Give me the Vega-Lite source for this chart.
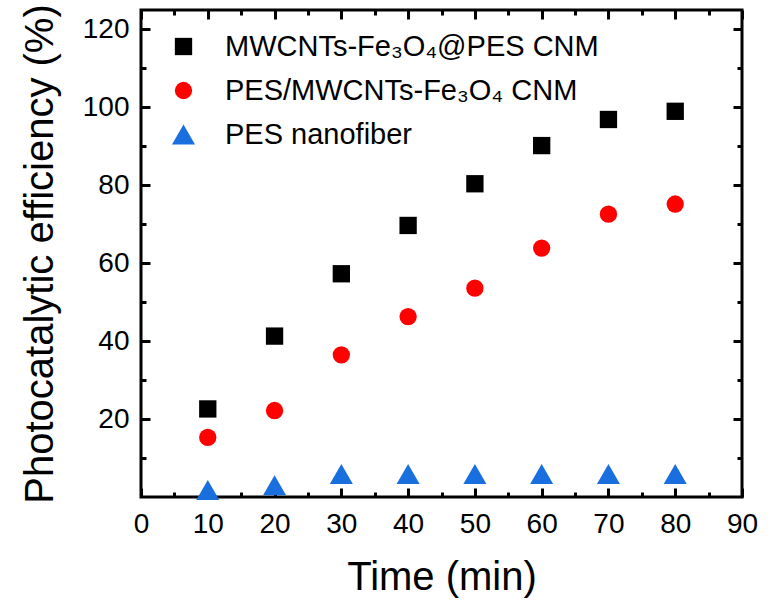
{
  "$schema": "https://vega.github.io/schema/vega-lite/v6.json",
  "width": 601,
  "height": 487,
  "autosize": "none",
  "padding": {"left": 141, "top": 10, "right": 26, "bottom": 106},
  "background": "white",
  "config": {
    "view": {"stroke": "black", "strokeWidth": 3},
    "font": "Liberation Sans",
    "axis": {"grid": false, "domain": false, "labelFlush": false, "labelFont": "Liberation Sans", "titleFont": "Liberation Sans", "labelColor": "black", "titleColor": "black", "tickColor": "black", "tickWidth": 3, "titleFontWeight": "normal"}
  },
  "data": {"values": [
    {"t": 10, "eff": 22.6, "s": "MWCNTs-Fe₃O₄@PES CNM"},
    {"t": 20, "eff": 41.3, "s": "MWCNTs-Fe₃O₄@PES CNM"},
    {"t": 30, "eff": 57.3, "s": "MWCNTs-Fe₃O₄@PES CNM"},
    {"t": 40, "eff": 69.7, "s": "MWCNTs-Fe₃O₄@PES CNM"},
    {"t": 50, "eff": 80.4, "s": "MWCNTs-Fe₃O₄@PES CNM"},
    {"t": 60, "eff": 90.2, "s": "MWCNTs-Fe₃O₄@PES CNM"},
    {"t": 70, "eff": 96.9, "s": "MWCNTs-Fe₃O₄@PES CNM"},
    {"t": 80, "eff": 99.0, "s": "MWCNTs-Fe₃O₄@PES CNM"},
    {"t": 10, "eff": 15.3, "s": "PES/MWCNTs-Fe₃O₄ CNM"},
    {"t": 20, "eff": 22.2, "s": "PES/MWCNTs-Fe₃O₄ CNM"},
    {"t": 30, "eff": 36.5, "s": "PES/MWCNTs-Fe₃O₄ CNM"},
    {"t": 40, "eff": 46.3, "s": "PES/MWCNTs-Fe₃O₄ CNM"},
    {"t": 50, "eff": 53.6, "s": "PES/MWCNTs-Fe₃O₄ CNM"},
    {"t": 60, "eff": 63.9, "s": "PES/MWCNTs-Fe₃O₄ CNM"},
    {"t": 70, "eff": 72.6, "s": "PES/MWCNTs-Fe₃O₄ CNM"},
    {"t": 80, "eff": 75.2, "s": "PES/MWCNTs-Fe₃O₄ CNM"},
    {"t": 10, "eff": 1.8, "s": "PES nanofiber"},
    {"t": 20, "eff": 3.0, "s": "PES nanofiber"},
    {"t": 30, "eff": 5.9, "s": "PES nanofiber"},
    {"t": 40, "eff": 5.9, "s": "PES nanofiber"},
    {"t": 50, "eff": 5.9, "s": "PES nanofiber"},
    {"t": 60, "eff": 5.9, "s": "PES nanofiber"},
    {"t": 70, "eff": 5.9, "s": "PES nanofiber"},
    {"t": 80, "eff": 5.9, "s": "PES nanofiber"}
  ]},
  "resolve": {"axis": {"x": "independent", "y": "independent"}},
  "layer": [
    {
      "mark": {"type": "point", "filled": true, "opacity": 1, "size": 300},
      "encoding": {
        "x": {"field": "t", "type": "quantitative", "scale": {"domain": [0, 90], "nice": false},
          "axis": {"orient": "bottom", "title": "Time (min)", "values": [0,5,10,15,20,25,30,35,40,45,50,55,60,65,70,75,80,85,90],
            "labelExpr": "datum.value % 10 === 0 ? datum.label : ''", "labelFontSize": 28, "titleFontSize": 40, "labelPadding": 22, "titlePadding": 19,
            "tickSize": {"condition": {"test": "datum.value % 10 === 0", "value": -9}, "value": -5}}},
        "y": {"field": "eff", "type": "quantitative", "scale": {"domain": [0, 125], "nice": false},
          "axis": {"orient": "left", "title": "Photocatalytic efficiency (%)", "values": [10,20,30,40,50,60,70,80,90,100,110,120],
            "labelExpr": "datum.value % 20 === 0 ? datum.label : ''", "labelFontSize": 28, "titleFontSize": 40, "labelPadding": 21, "titlePadding": 22,
            "tickSize": {"condition": {"test": "datum.value % 20 === 0", "value": -9}, "value": -5}}},
        "color": {"field": "s", "type": "nominal", "sort": null,
          "scale": {"domain": ["MWCNTs-Fe₃O₄@PES CNM", "PES/MWCNTs-Fe₃O₄ CNM", "PES nanofiber"], "range": ["#000000", "#ff0000", "#1a6fdf"]},
          "legend": {"orient": "none", "legendX": 28, "legendY": 22, "title": null, "labelFontSize": 29, "labelFont": "Liberation Sans", "labelColor": "black", "labelLimit": 0, "rowPadding": 14, "labelOffset": 27, "padding": 0, "symbolSize": 300}},
        "shape": {"field": "s", "type": "nominal", "sort": null,
          "scale": {"domain": ["MWCNTs-Fe₃O₄@PES CNM", "PES/MWCNTs-Fe₃O₄ CNM", "PES nanofiber"], "range": ["square", "circle", "M0,-1.155L1.33,1.155L-1.33,1.155Z"]},
          "legend": {"orient": "none", "legendX": 28, "legendY": 22, "title": null, "labelFontSize": 29, "labelFont": "Liberation Sans", "labelColor": "black", "labelLimit": 0, "rowPadding": 14, "labelOffset": 27, "padding": 0, "symbolSize": 300}}
      }
    },
    {
      "mark": {"type": "point", "opacity": 0},
      "encoding": {
        "x": {"field": "t", "type": "quantitative",
          "axis": {"orient": "top", "title": null, "labels": false, "values": [0,5,10,15,20,25,30,35,40,45,50,55,60,65,70,75,80,85,90],
            "tickSize": {"condition": {"test": "datum.value % 10 === 0", "value": -9}, "value": -5}}},
        "y": {"field": "eff", "type": "quantitative",
          "axis": {"orient": "right", "title": null, "labels": false, "values": [10,20,30,40,50,60,70,80,90,100,110,120],
            "tickSize": {"condition": {"test": "datum.value % 20 === 0", "value": -9}, "value": -5}}}
      }
    }
  ]
}
